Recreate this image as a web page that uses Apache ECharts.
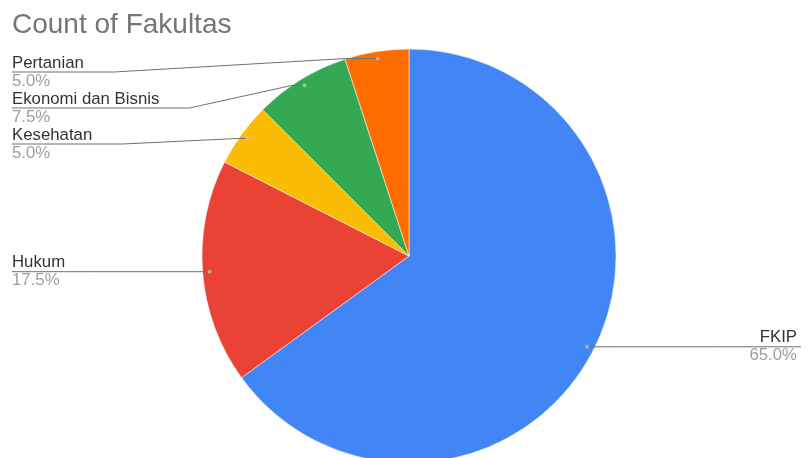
<!DOCTYPE html>
<html>
<head>
<meta charset="utf-8">
<script src="https://cdn.jsdelivr.net/npm/echarts@6/dist/echarts.min.js"></script>
<style>html,body{margin:0;padding:0;background:#fff}#c{width:809px;height:458px}</style>
</head>
<body>
<div id="c"></div>
<script>
const categories = ['FKIP', 'Hukum', 'Kesehatan', 'Ekonomi dan Bisnis', 'Pertanian'];
const counts = [26, 7, 2, 3, 2];
const colors = ['#4285F4', '#EA4335', '#FBBC04', '#34A853', '#FF6D01'];
const titleText = 'Count of Fakultas';

const W = 809;
const CX = 409, CY = 256, R = 207, ANCHOR_R = 200;
const LABEL_GAP = 36, MIN_TOP = 72;

const total = counts.reduce((a, b) => a + b, 0);
let acc = 0;
const mids = counts.map(v => { const m = acc + v / 2; acc += v; return m; });
const anchors = mids.map((m, i) => {
  const a = m / total * 2 * Math.PI;
  return {i: i, x: CX + ANCHOR_R * Math.sin(a), y: CY - ANCHOR_R * Math.cos(a)};
});
const lineY = {};
['left', 'right'].forEach(side => {
  const list = anchors.filter(a => side === 'left' ? a.x < CX : a.x >= CX).sort((a, b) => a.y - b.y);
  let prev = -Infinity;
  list.forEach(a => {
    const y = Math.max(a.y, prev + LABEL_GAP, MIN_TOP);
    lineY[a.i] = y; prev = y;
  });
});

const chart = echarts.init(document.getElementById('c'), null, {renderer: 'canvas'});
const data = categories.map((n, i) => ({name: n, value: counts[i], itemStyle: {color: colors[i]}}));
const option = {
  animation: false,
  title: {text: titleText, left: 7, top: 6, textStyle: {fontFamily: 'Liberation Sans', fontSize: 28, fontWeight: 'normal', color: '#757575'}},
  polar: {center: [CX, CY], radius: R},
  angleAxis: {type: 'value', min: 0, max: total, startAngle: 90, clockwise: true, show: false},
  radiusAxis: {type: 'value', min: 0, max: R, show: false},
  series: [
    {
      type: 'pie', center: [CX, CY], radius: R, startAngle: 90, clockwise: true,
      label: {show: false}, labelLine: {show: false},
      itemStyle: {borderColor: '#fff', borderWidth: 0.5},
      data: data, silent: true, z: 1
    },
    {
      type: 'pie', center: [CX, CY], radius: ANCHOR_R, startAngle: 90, clockwise: true,
      itemStyle: {color: 'rgba(0,0,0,0)'},
      data: data.map(d => ({name: d.name, value: d.value})),
      z: 2,
      label: {
        show: true, position: 'outer', alignTo: 'edge', edgeDistance: 12,
        formatter: p => '{n|' + p.name + '}\n{p|' + p.percent.toFixed(1) + '%}',
        rich: {
          n: {fontFamily: 'Liberation Sans', fontSize: 16.8, color: '#333', lineHeight: 18},
          p: {fontFamily: 'Liberation Sans', fontSize: 16.8, color: '#9e9e9e', lineHeight: 18}
        }
      },
      labelLine: {show: true, length: 8, length2: 10, smooth: false, minTurnAngle: 0, maxSurfaceAngle: 180, lineStyle: {color: '#6f6f6f', width: 1}},
      labelLayout: function (params) {
        const idx = params.dataIndex;
        const r = params.labelRect;
        const isLeft = r.x < W / 2;
        const ly = lineY[idx];
        const dy = ly - (r.y + r.height / 2);
        const a = anchors[idx];
        const half = Math.sqrt(Math.max(0, R * R - (a.y - CY) * (a.y - CY)));
        let edgeX, bendX, endX;
        if (isLeft) {
          endX = r.x;
          edgeX = Math.min(a.x, CX - half);
          bendX = Math.min(r.x + r.width + 30, edgeX);
        } else {
          endX = r.x + r.width + 4;
          edgeX = Math.max(a.x, CX + half);
          bendX = Math.max(r.x - 30, edgeX);
        }
        return {dy: dy, labelLinePoints: [[a.x, a.y], [edgeX, a.y], [bendX, ly], [endX, ly]]};
      },
      silent: true
    },
    {
      type: 'scatter', coordinateSystem: 'polar', z: 3, silent: true,
      symbol: 'circle', symbolSize: 4,
      itemStyle: {color: 'rgba(200,200,200,0.9)'},
      data: mids.map(m => [ANCHOR_R, m])
    }
  ]
};
chart.setOption(option);
</script>
</body>
</html>
